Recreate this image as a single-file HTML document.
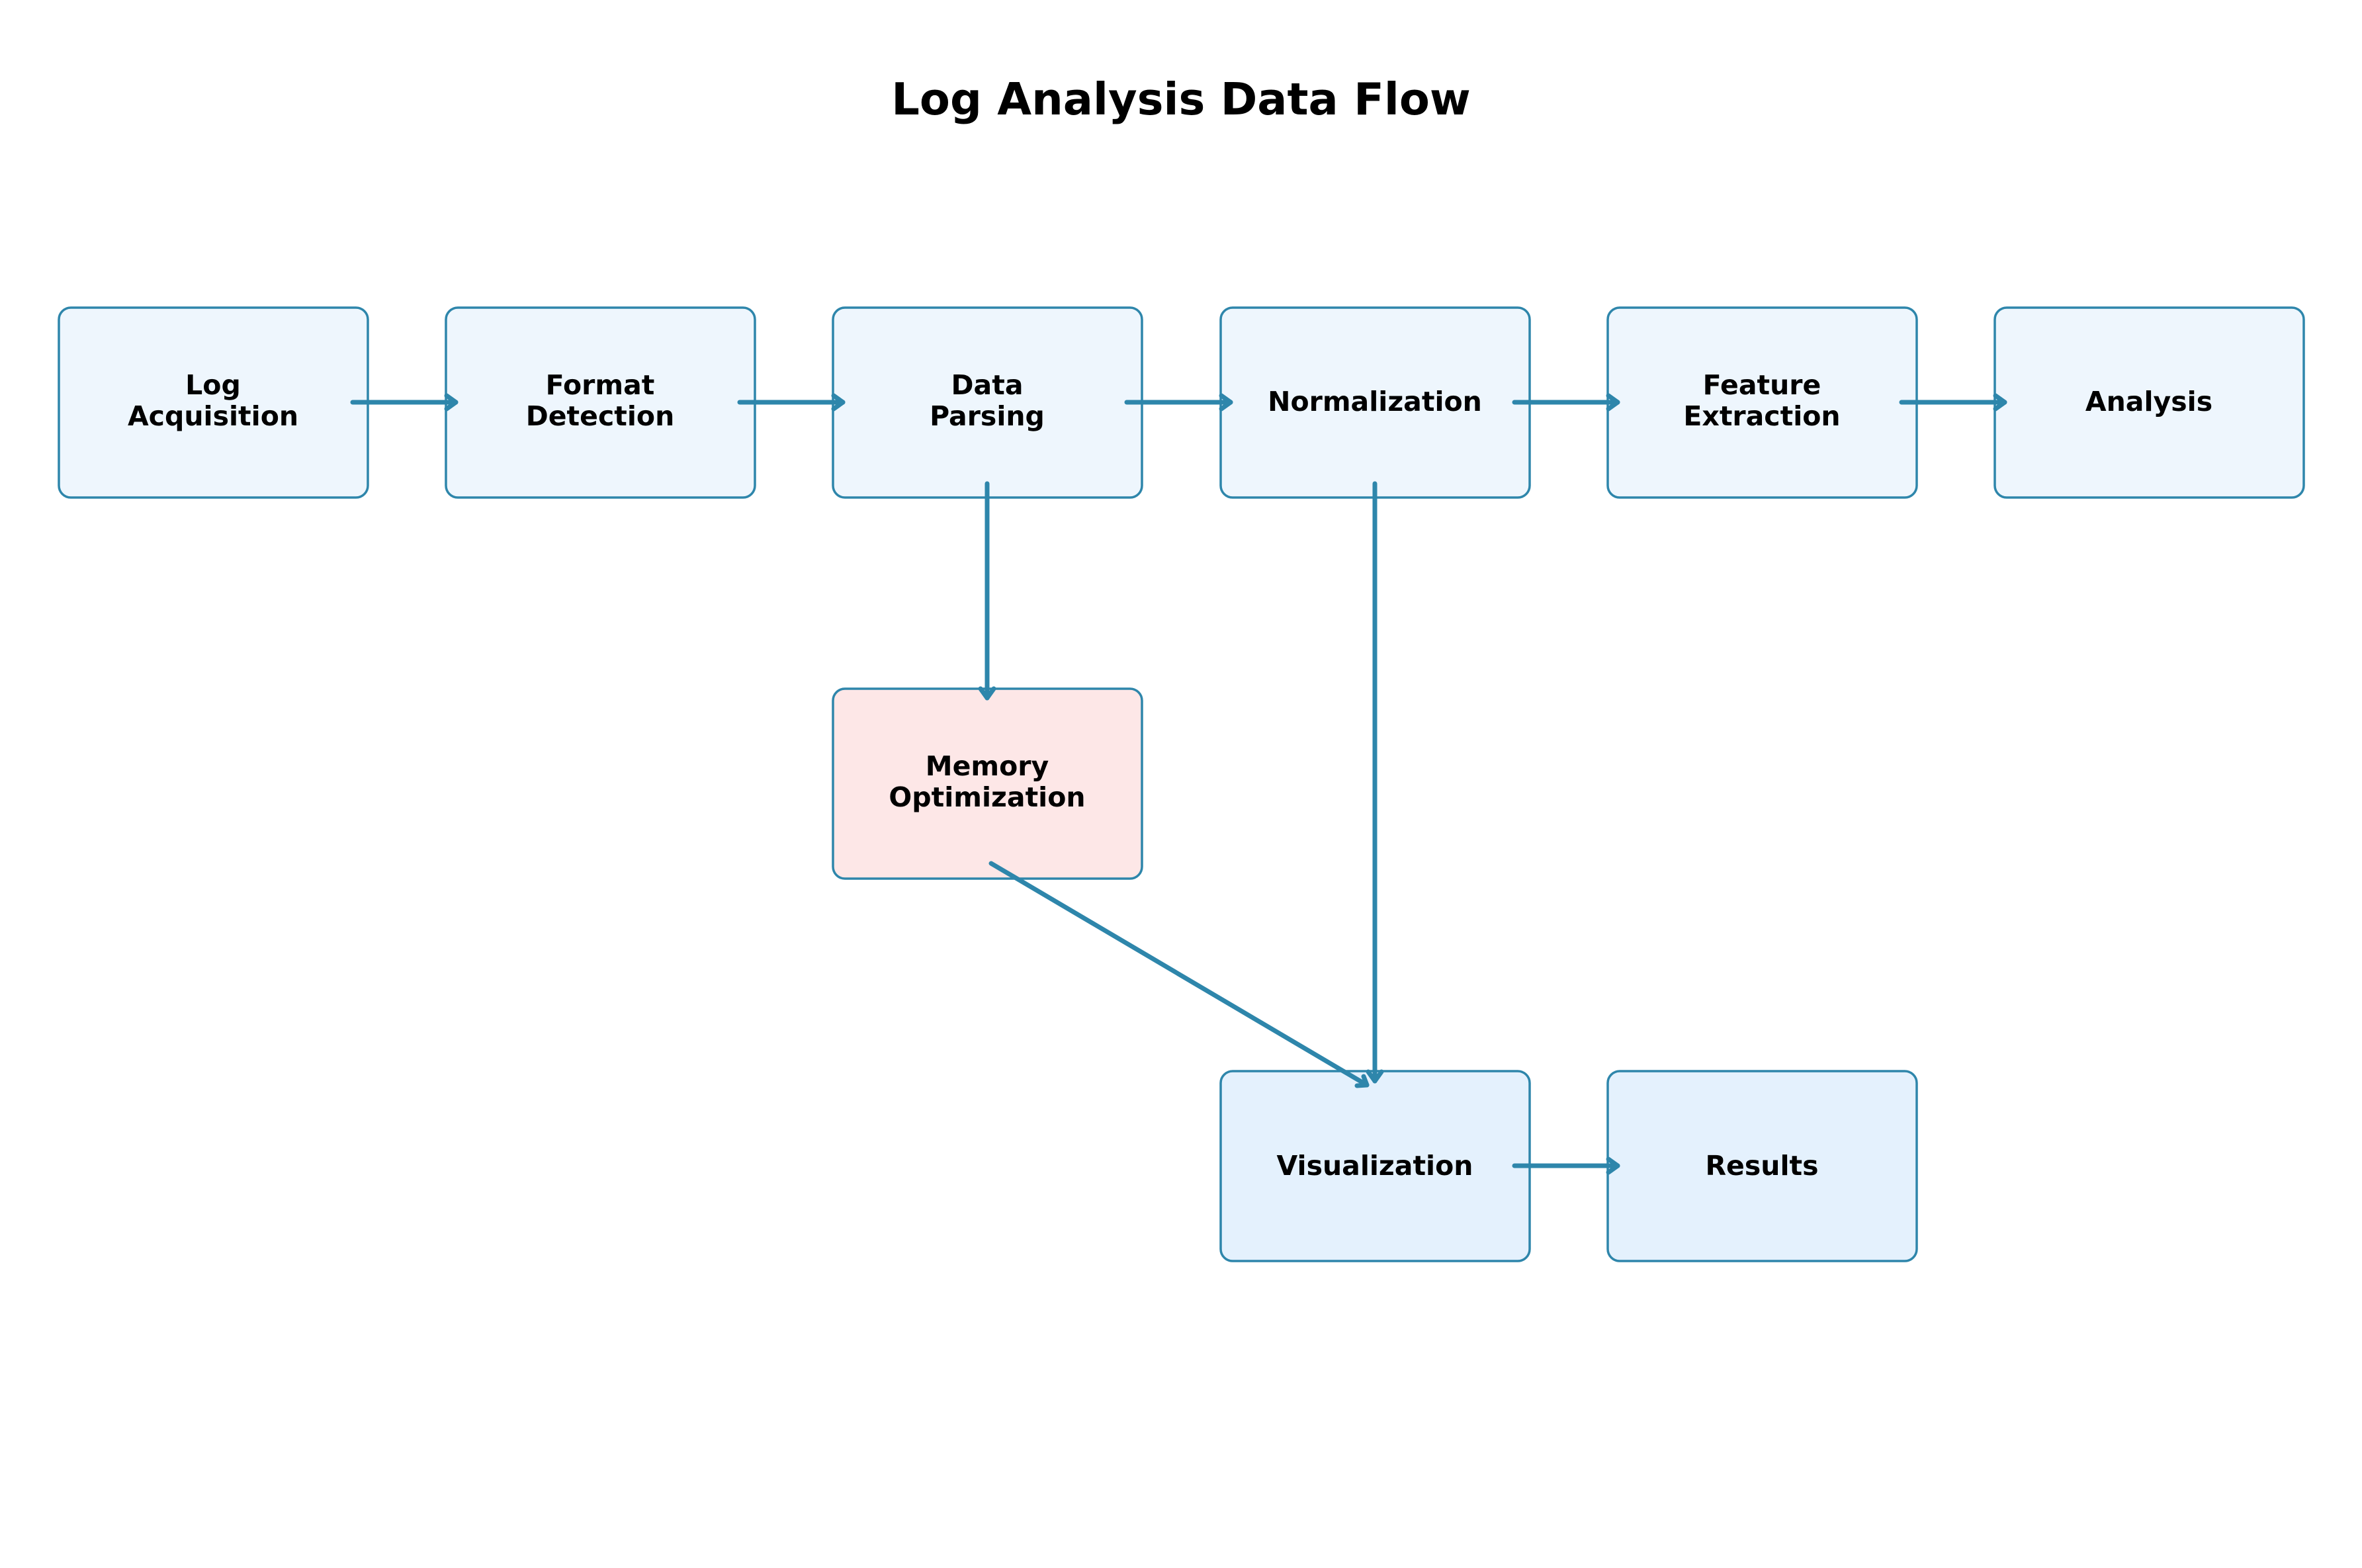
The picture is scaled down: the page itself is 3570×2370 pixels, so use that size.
<!DOCTYPE html>
<html><head><meta charset="utf-8"><style>
html,body{margin:0;padding:0;background:#fff;}
svg{display:block;}
text{font-family:"DejaVu Sans","Liberation Sans",sans-serif;font-weight:bold;fill:#000;}
</style></head><body>
<svg width="3570" height="2370" viewBox="0 0 3570 2370" xmlns="http://www.w3.org/2000/svg">
<text x="1785" y="173" font-size="67" text-anchor="middle">Log Analysis Data Flow</text>
<g stroke="#2E86AB" stroke-width="3.5">
<rect x="89" y="465" width="467" height="287" rx="18" fill="#EEF6FD"/>
<rect x="674" y="465" width="467" height="287" rx="18" fill="#EEF6FD"/>
<rect x="1259" y="465" width="467" height="287" rx="18" fill="#EEF6FD"/>
<rect x="1845" y="465" width="467" height="287" rx="18" fill="#EEF6FD"/>
<rect x="2430" y="465" width="467" height="287" rx="18" fill="#EEF6FD"/>
<rect x="3015" y="465" width="467" height="287" rx="18" fill="#EEF6FD"/>
<rect x="1259" y="1041" width="467" height="287" rx="18" fill="#FDE7E7"/>
<rect x="1845" y="1619" width="467" height="287" rx="18" fill="#E4F1FD"/>
<rect x="2430" y="1619" width="467" height="287" rx="18" fill="#E4F1FD"/>
</g>
<g stroke="#2E86AB" stroke-width="7" fill="none" stroke-linecap="round" stroke-linejoin="round">
<line x1="533" y1="608" x2="689" y2="608"/><polyline points="675,598 689,608 675,618"/>
<line x1="1118" y1="608" x2="1274" y2="608"/><polyline points="1260,598 1274,608 1260,618"/>
<line x1="1703" y1="608" x2="1860" y2="608"/><polyline points="1846,598 1860,608 1846,618"/>
<line x1="2289" y1="608" x2="2445" y2="608"/><polyline points="2431,598 2445,608 2431,618"/>
<line x1="2874" y1="608" x2="3030" y2="608"/><polyline points="3016,598 3030,608 3016,618"/>
<line x1="1492" y1="731" x2="1492" y2="1055"/><polyline points="1482,1041 1492,1055 1502,1041"/>
<line x1="2078" y1="731" x2="2078" y2="1634"/><polyline points="2068,1620 2078,1634 2088,1620"/>
<line x1="1498" y1="1305" x2="2066" y2="1640"/><polyline points="2061,1627 2066,1640 2051,1641"/>
<line x1="2289" y1="1762" x2="2445" y2="1762"/><polyline points="2431,1752 2445,1762 2431,1772"/>
</g>
<g font-size="41" text-anchor="middle">
<text x="322" y="596">Log</text><text x="322" y="643">Acquisition</text>
<text x="907" y="596">Format</text><text x="907" y="643">Detection</text>
<text x="1492" y="596">Data</text><text x="1492" y="643">Parsing</text>
<text x="2078" y="621">Normalization</text>
<text x="2663" y="596">Feature</text><text x="2663" y="643">Extraction</text>
<text x="3248" y="621">Analysis</text>
<text x="1492" y="1172">Memory</text><text x="1492" y="1219">Optimization</text>
<text x="2078" y="1776">Visualization</text>
<text x="2663" y="1776">Results</text>
</g>
</svg>
</body></html>
